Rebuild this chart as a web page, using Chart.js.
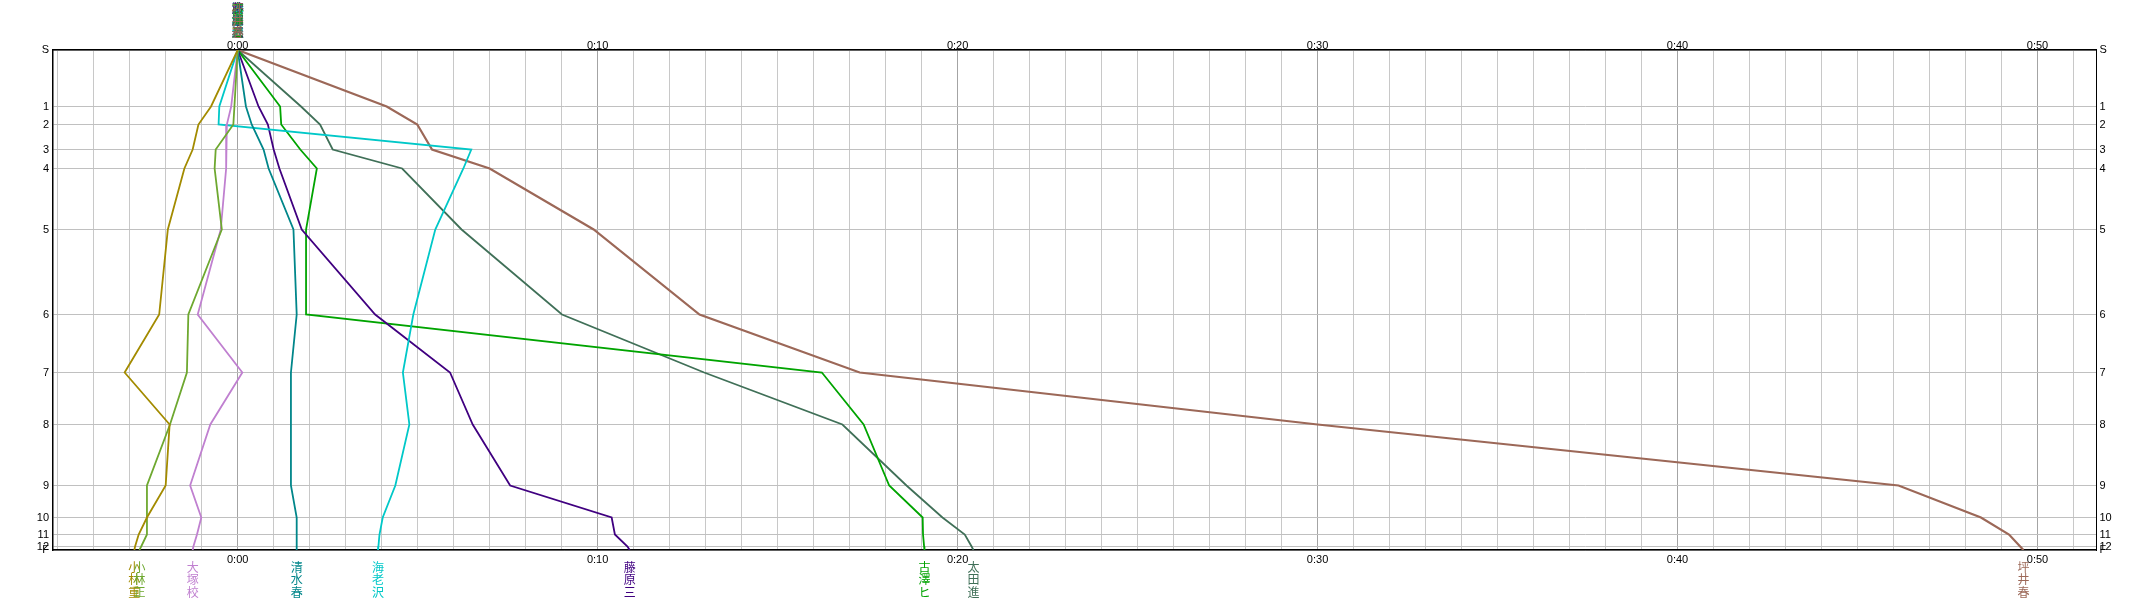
<!DOCTYPE html>
<html>
<head>
<meta charset="utf-8">
<script src="https://cdn.jsdelivr.net/npm/chart.js@4.4.1/dist/chart.umd.min.js"></script>
<style>
    html, body { margin: 0; padding: 0; background: #fff; }
    #wrap { width: 2148px; height: 600px; }
</style>
</head>
<body>
<div id="wrap"><canvas id="chart" width="2148" height="600"></canvas></div>
<script>
/* ======================
   DATA
====================== */
// stations (S .. F) and their distance along the course (course = 100)
const stationLabels = ["S", "1", "2", "3", "4", "5", "6", "7", "8", "9", "10", "11", "12", "F"];
const stationKm = [0, 11.3, 14.9, 19.9, 23.7, 35.9, 52.9, 64.5, 74.9, 87.1, 93.5, 96.9, 99.3, 100];

// gap to reference, in minutes, at each station
const gapKobayashi = [0, -0.74, -1.09, -1.25, -1.48, -1.94, -2.18, -3.14, -1.89, -2.0, -2.52, -2.75, -2.85, -2.87];
const gapKobayashi2 = [0, -0.09, -0.12, -0.61, -0.64, -0.44, -1.37, -1.41, -1.88, -2.52, -2.52, -2.52, -2.68, -2.73];
const gapOtsuka = [0, -0.18, -0.30, -0.32, -0.32, -0.47, -1.11, 0.13, -0.76, -1.32, -1.01, -1.13, -1.23, -1.25];
const gapShimizu = [0, 0.23, 0.39, 0.72, 0.86, 1.55, 1.64, 1.48, 1.48, 1.48, 1.64, 1.64, 1.64, 1.64];
const gapEbisawa = [0, -0.51, -0.53, 6.49, 6.27, 5.49, 4.88, 4.59, 4.77, 4.38, 4.03, 3.94, 3.91, 3.90];
const gapFujiwara = [0, 0.58, 0.84, 1.0, 1.16, 1.78, 3.82, 5.90, 6.53, 7.57, 10.39, 10.48, 10.83, 10.89];
const gapFurusawa = [0, 1.18, 1.21, 1.74, 2.2, 1.90, 1.90, 16.23, 17.39, 18.1, 19.03, 19.04, 19.07, 19.08];
const gapOta = [0, 1.76, 2.29, 2.64, 4.57, 6.22, 9.01, 12.96, 16.80, 18.58, 19.58, 20.2, 20.39, 20.44];
const gapTsuboi = [0, 4.14, 4.99, 5.40, 7.0, 9.89, 12.83, 17.28, 30.0, 46.14, 48.43, 49.21, 49.52, 49.61];

const teamNames = ["小林重", "小林正", "大塚校", "清水春", "海老沢", "藤原三", "古澤ヒ", "太田進", "坪井春"];
const teamGaps = [gapKobayashi, gapKobayashi2, gapOtsuka, gapShimizu, gapEbisawa, gapFujiwara, gapFurusawa, gapOta, gapTsuboi];
const teamColors = ["#a38b00", "#6ea830", "#c080d0", "#00868a", "#00c8c8", "#400080", "#00a400", "#407058", "#9c6858"];

// x range in minutes
const xMin = -5.13;
const xMax = 51.64;

/* ======================
   HELPERS
====================== */
function fmtTime(v) {
    const m = Math.round(v);
    return Math.floor(m / 60) + ":" + String(m % 60).padStart(2, "0");
}

function minuteTicks(scale) {
    const t = [];
    for (let m = Math.ceil(xMin); m <= Math.floor(xMax); m++) t.push({ value: m });
    scale.ticks = t;
}

function stationTicks(scale) {
    scale.ticks = stationKm.map(v => ({ value: v }));
}

const tickFont = { family: "'Liberation Sans', Arial, sans-serif", size: 11 };

/* ======================
   TEAM NAME LABELS
====================== */
const nameLabels = {
    id: "nameLabels",
    afterDraw(chart) {
        const ctx = chart.ctx;
        const xs = chart.scales.x;
        ctx.save();
        ctx.font = "12px 'Noto Sans CJK JP', sans-serif";
        ctx.textAlign = "center";
        ctx.textBaseline = "middle";
        teamNames.forEach((name, i) => {
            const gaps = teamGaps[i];
            const xEnd = xs.getPixelForValue(gaps[gaps.length - 1]);
            const xStart = xs.getPixelForValue(gaps[0]);
            ctx.fillStyle = teamColors[i];
            [...name].forEach((ch, k) => {
                ctx.fillText(ch, xStart, 8 + k * 12.3);
                ctx.fillText(ch, xEnd, 567 + k * 12.5);
            });
        });
        ctx.restore();
    }
};

/* ======================
   CHART
====================== */
const chartCanvas = document.getElementById("chart");

if (chartCanvas) {
    new Chart(chartCanvas, {
        type: "scatter",
        data: {
            datasets: teamNames.map((name, i) => ({
                label: name,
                data: teamGaps[i].map((g, k) => ({ x: g, y: stationKm[k] })),
                showLine: true,
                borderColor: teamColors[i],
                backgroundColor: teamColors[i],
                borderWidth: i === 8 ? 2.2 : 1.8,
                pointRadius: 0,
                tension: 0
            }))
        },
        options: {
            responsive: false,
            animation: false,
            devicePixelRatio: 1,
            layout: { padding: 0 },
            plugins: {
                legend: { display: false },
                tooltip: { enabled: false }
            },
            scales: {
                x: {
                    type: "linear",
                    position: "bottom",
                    min: xMin,
                    max: xMax,
                    afterBuildTicks: minuteTicks,
                    afterFit: s => { s.height = 50; },
                    grid: {
                        drawTicks: false,
                        color: c => (c.tick && c.tick.value % 10 === 0) ? "#a4a4a4" : "#c8c8c8",
                        lineWidth: 1
                    },
                    border: { display: true, color: "#000", width: 1.5 },
                    ticks: {
                        autoSkip: false,
                        maxRotation: 0,
                        padding: 3,
                        color: "#000",
                        font: tickFont,
                        callback: v => (v % 10 === 0 ? fmtTime(v) : "")
                    }
                },
                x2: {
                    type: "linear",
                    position: "top",
                    min: xMin,
                    max: xMax,
                    afterBuildTicks: minuteTicks,
                    afterFit: s => { s.height = 50; },
                    grid: { display: false, drawTicks: false },
                    border: { display: true, color: "#000", width: 1.5 },
                    ticks: {
                        autoSkip: false,
                        maxRotation: 0,
                        padding: -3,
                        color: "#000",
                        font: tickFont,
                        callback: v => (v % 10 === 0 ? fmtTime(v) : "")
                    }
                },
                y: {
                    type: "linear",
                    position: "left",
                    reverse: true,
                    min: 0,
                    max: 100,
                    afterBuildTicks: stationTicks,
                    afterFit: s => { s.width = 53; },
                    grid: { drawTicks: false, color: "#c0c0c0", lineWidth: 1 },
                    border: { display: true, color: "#000", width: 1.5 },
                    ticks: {
                        autoSkip: false,
                        padding: 4,
                        color: "#000",
                        font: tickFont,
                        callback: (v, i) => stationLabels[i]
                    }
                },
                y2: {
                    type: "linear",
                    position: "right",
                    reverse: true,
                    min: 0,
                    max: 100,
                    afterBuildTicks: stationTicks,
                    afterFit: s => { s.width = 51.5; },
                    grid: { display: false, drawTicks: false },
                    border: { display: true, color: "#000", width: 1 },
                    ticks: {
                        autoSkip: false,
                        padding: 3,
                        color: "#000",
                        font: tickFont,
                        callback: (v, i) => stationLabels[i]
                    }
                }
            }
        },
        plugins: [nameLabels]
    });
}
</script>
</body>
</html>
